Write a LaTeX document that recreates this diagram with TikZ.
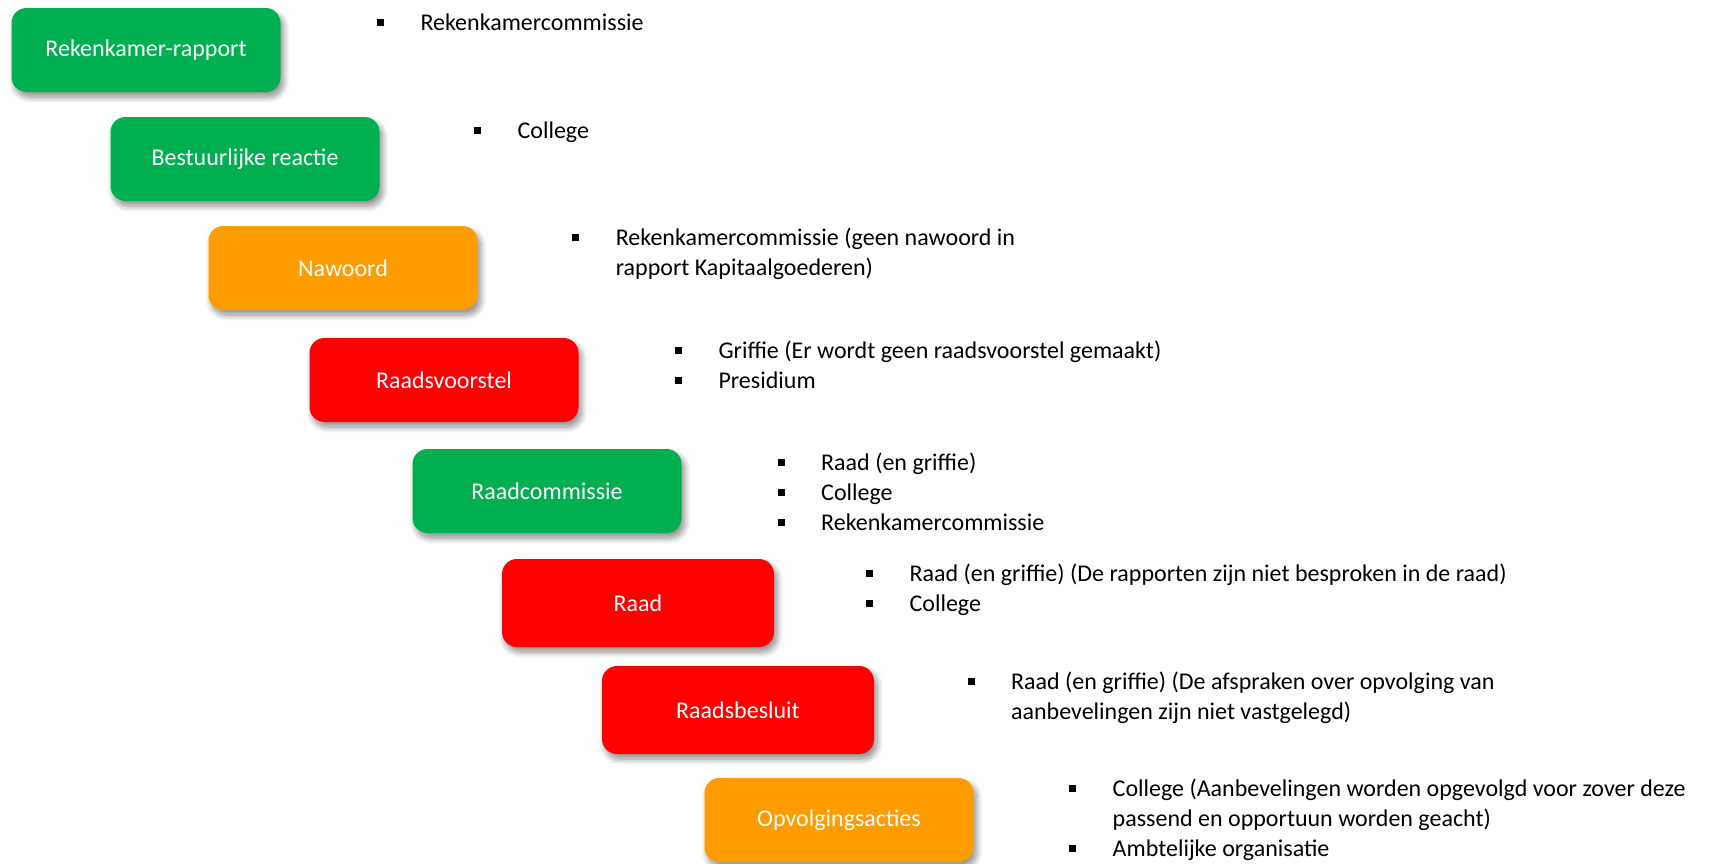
\documentclass[tikz,border=0pt]{standalone}
\usepackage{fontspec}
\setmainfont{Carlito}
\usetikzlibrary{shadows.blur}
\definecolor{bgreen}{HTML}{00B050}
\definecolor{borange}{HTML}{FF9C00}
\definecolor{bred}{HTML}{FF0000}
\newcommand{\bul}{\makebox[43.6pt][l]{\rule[4.5pt]{7pt}{7pt}}}
\tikzset{
  stage/.style={rounded corners=15pt, minimum width=269pt, minimum height=84pt,
    inner sep=0pt, text=white, font=\fontsize{24}{30}\selectfont,
    blur shadow={shadow xshift=3pt, shadow yshift=-5pt, shadow blur radius=6pt, shadow blur steps=10, shadow opacity=45}},
  info/.style={anchor=base west, inner sep=0pt, font=\fontsize{24}{30}\selectfont, align=left}
}
\begin{document}
\begin{tikzpicture}[x=1pt,y=-1pt]
\useasboundingbox (0,0) rectangle (1712,863);
\node[stage, fill=bgreen] (s1) at (146,50) {Rekenkamer-rapport};
\node[stage, fill=bgreen] (s2) at (245,159) {Bestuurlijke reactie};
\node[stage, fill=borange] (s3) at (343,268) {Nawoord};
\node[stage, fill=bred] (s4) at (444,380) {Raadsvoorstel};
\node[stage, fill=bgreen] (s5) at (547,491) {Raadcommissie};
\node[stage, fill=bred, minimum width=272pt, minimum height=88pt] (s6) at (638,603) {Raad};
\node[stage, fill=bred, minimum width=272pt, minimum height=88pt] (s7) at (738,710) {Raadsbesluit};
\node[stage, fill=borange] (s8) at (839,820) {Opvolgingsacties};

\node[info] (t1) at (376.7,30) {\begin{tabular}[t]{@{}l@{}l@{}}\bul & Rekenkamercommissie\end{tabular}};
\node[info] (t2) at (473.8,138) {\begin{tabular}[t]{@{}l@{}l@{}}\bul & College\end{tabular}};
\node[info] (t3) at (572,245) {\begin{tabular}[t]{@{}l@{}l@{}}\bul & Rekenkamercommissie (geen nawoord in\\ & rapport Kapitaalgoederen)\end{tabular}};
\node[info] (t4) at (674.7,358) {\begin{tabular}[t]{@{}l@{}l@{}}\bul & Griffie (Er wordt geen raadsvoorstel gemaakt)\\ \bul & Presidium\end{tabular}};
\node[info] (t5) at (777.4,470) {\begin{tabular}[t]{@{}l@{}l@{}}\bul & Raad (en griffie)\\ \bul & College\\ \bul & Rekenkamercommissie\end{tabular}};
\node[info] (t6) at (865.8,581) {\begin{tabular}[t]{@{}l@{}l@{}}\bul & Raad (en griffie) (De rapporten zijn niet besproken in de raad)\\ \bul & College\end{tabular}};
\node[info] (t7) at (967.3,689) {\begin{tabular}[t]{@{}l@{}l@{}}\bul & Raad (en griffie) (De afspraken over opvolging van\\ & aanbevelingen zijn niet vastgelegd)\end{tabular}};
\node[info] (t8) at (1068.9,796) {\begin{tabular}[t]{@{}l@{}l@{}}\bul & College (Aanbevelingen worden opgevolgd voor zover deze\\ & passend en opportuun worden geacht)\\ \bul & Ambtelijke organisatie\end{tabular}};
\end{tikzpicture}
\end{document}
